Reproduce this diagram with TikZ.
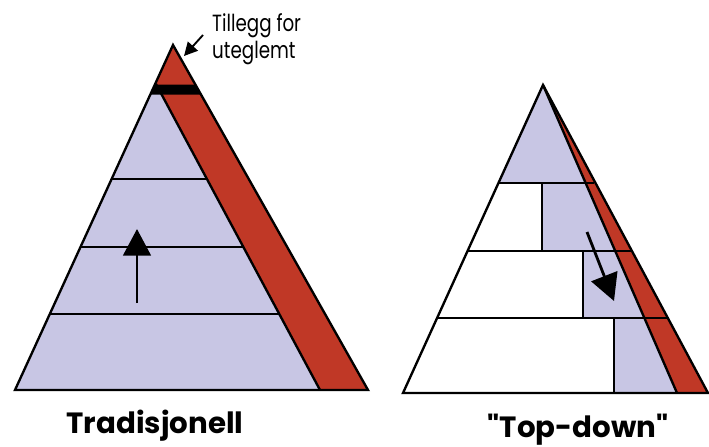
\documentclass[tikz,border=0pt]{standalone}
\usepackage{fontspec}
\setmainfont{Poppins}[Ligatures=TeXOff]
\usetikzlibrary{arrows.meta,positioning}

\definecolor{lavpyr}{RGB}{200,198,228}
\definecolor{redpyr}{RGB}{192,56,38}

\tikzset{
  lav/.style={fill=lavpyr},
  redband/.style={fill=redpyr},
  outline/.style={line width=2pt, line join=miter},
  level/.style={line width=1.8pt},
  bigarrow/.style={line width=2.4pt, -{Triangle[width=8.3mm,length=8mm]}},
  caption/.style={anchor=base, inner sep=0pt, font=\bfseries\fontsize{25}{25}\selectfont},
  notetext/.style={anchor=base west, inner sep=0pt, font=\fontsize{20}{20}\selectfont}
}

\begin{document}
\begin{tikzpicture}[x=0.03cm, y=-0.03cm]
  \useasboundingbox (0,0) rectangle (709,446);

  % Tradisjonell pyramide
  \coordinate (topa) at (173,45);
  \coordinate (bla) at (15,390);
  \coordinate (bra) at (368,390);
  \coordinate (inba) at (320,390);
  \coordinate (inja) at (156,84);
  \fill[redband] (topa) -- (bra) -- (inba) -- (inja) -- cycle;
  \fill[lav] (bla) -- (inja) -- (inba) -- cycle;
  \fill (154.7,84.5) -- (195.9,84.5) -- (201,94.5) -- (150.4,94.5) -- cycle;
  \draw[level] (111.6,179) -- (207.7,179);
  \draw[level] (80.5,247) -- (243.9,247);
  \draw[level] (49.8,314) -- (279.6,314);
  \draw[outline] (inja) -- (inba);
  \draw[outline] (topa) -- (bra) -- (bla) -- cycle;
  \coordinate (upfrom) at (137,303);
  \coordinate (upto) at (137,229);
  \draw[bigarrow] (upfrom) -- (upto);

  % merknad
  \node[notetext] (notea) at (212,31) {\scalebox{0.78}[1]{Tillegg for}};
  \node[notetext] (noteb) at (212,58) {\scalebox{0.78}[1]{uteglemt}};
  \coordinate (notetail) at (203,35);
  \coordinate (notetip) at (184,56);
  \draw[line width=1.6pt, -{Triangle[width=4mm,length=4mm]}] (notetail) -- (notetip);

  % Top-down pyramide
  \coordinate (topb) at (543,85);
  \coordinate (blb) at (403,393);
  \coordinate (brb) at (708,393);
  \coordinate (inbb) at (677,393);
  \fill[redband] (topb) -- (brb) -- (inbb) -- cycle;
  \fill[lav] (topb) -- (498.5,183) -- (585.6,183) -- cycle;
  \fill[lav] (542,183) -- (585.6,183) -- (615.2,251) -- (542,251) -- cycle;
  \fill[lav] (583,251) -- (615.2,251) -- (644.4,318) -- (583,318) -- cycle;
  \fill[lav] (614,318) -- (644.4,318) -- (inbb) -- (614,393) -- cycle;
  \draw[level] (498.5,183) -- (594,183);
  \draw[level] (467.5,251) -- (631.9,251);
  \draw[level] (437,318) -- (667.8,318);
  \draw[level] (542,183) -- (542,251);
  \draw[level] (583,251) -- (583,318);
  \draw[level] (614,318) -- (614,393);
  \draw[outline] (topb) -- (inbb);
  \draw[outline] (topb) -- (brb) -- (blb) -- cycle;
  \coordinate (downfrom) at (587,232);
  \coordinate (downto) at (614,301);
  \draw[bigarrow] (downfrom) -- (downto);

  % tekster
  \node[caption] (capa) at (155,433) {Tradisjonell};
  \node[caption] (capb) at (578,437) {"Top-down"};
\end{tikzpicture}
\end{document}
